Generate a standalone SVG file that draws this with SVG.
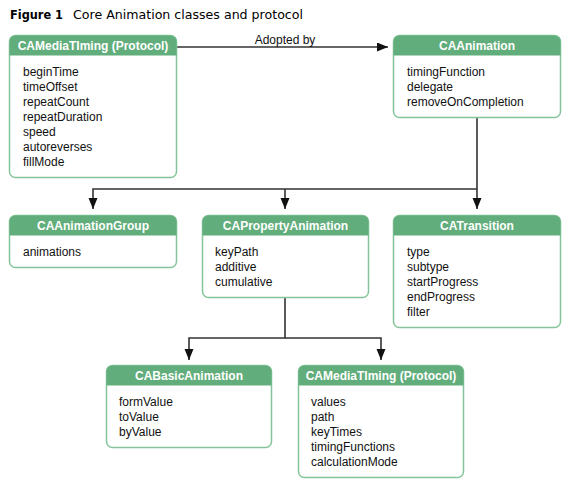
<svg xmlns="http://www.w3.org/2000/svg" width="573" height="491" viewBox="0 0 573 491">
<defs>
<style>
.box{fill:#fff;stroke:#84c49a;stroke-width:1.5}
.hdr{fill:#62ad7c}
.ht{font-family:"Liberation Sans",Arial,sans-serif;font-size:12px;font-weight:bold;fill:#fff;text-anchor:middle}
.it{font-family:"Liberation Sans",Arial,sans-serif;font-size:12px;fill:#111}
.con{fill:none;stroke:#333;stroke-width:1.6}
.lbl{font-family:"Liberation Sans",Arial,sans-serif;font-size:12px;fill:#111;text-anchor:middle}
.title{font-family:"DejaVu Sans","Lucida Grande",sans-serif;font-size:12px;fill:#000}
</style>
<marker id="arr" markerUnits="userSpaceOnUse" markerWidth="12" markerHeight="10" refX="11" refY="4.5" orient="auto">
<path d="M0,0 L11,4.5 L0,9 Z" fill="#111"/>
</marker>
</defs>
<rect width="573" height="491" fill="#fff"/>
<text class="title" x="10" y="19"><tspan font-weight="bold" textLength="53" lengthAdjust="spacingAndGlyphs">Figure 1</tspan><tspan x="73" textLength="230" lengthAdjust="spacingAndGlyphs">Core Animation classes and protocol</tspan></text>

<g id="connectors">
<path class="con" d="M177,47 H388" marker-end="url(#arr)"/>
<text class="lbl" x="285" y="44">Adopted by</text>
<path class="con" d="M477,118 V209" marker-end="url(#arr)"/>
<path class="con" d="M477,189 H93 V209" marker-end="url(#arr)"/>
<path class="con" d="M285,189 V209" marker-end="url(#arr)"/>
<path class="con" d="M285,298 V338 H189 V360" marker-end="url(#arr)"/>
<path class="con" d="M285,338 H381 V360" marker-end="url(#arr)"/>
</g>

<g id="camediatiming">
<rect class="box" x="9.5" y="35.5" width="167" height="142" rx="6"/>
<path class="hdr" d="M9.5,55.5 V41.5 A6,6 0 0 1 15.5,35.5 H170.5 A6,6 0 0 1 176.5,41.5 V55.5 Z"/>
<text class="ht" x="93" y="50">CAMediaTIming (Protocol)</text>
<text class="it" x="23" y="76">beginTime</text>
<text class="it" x="23" y="91">timeOffset</text>
<text class="it" x="23" y="106">repeatCount</text>
<text class="it" x="23" y="121">repeatDuration</text>
<text class="it" x="23" y="136">speed</text>
<text class="it" x="23" y="151">autoreverses</text>
<text class="it" x="23" y="166">fillMode</text>
</g>

<g id="caanimation">
<rect class="box" x="393.5" y="35.5" width="167" height="82" rx="6"/>
<path class="hdr" d="M393.5,55.5 V41.5 A6,6 0 0 1 399.5,35.5 H554.5 A6,6 0 0 1 560.5,41.5 V55.5 Z"/>
<text class="ht" x="477" y="50">CAAnimation</text>
<text class="it" x="407" y="76">timingFunction</text>
<text class="it" x="407" y="91">delegate</text>
<text class="it" x="407" y="106">removeOnCompletion</text>
</g>

<g id="caanimationgroup">
<rect class="box" x="9.5" y="215.5" width="167" height="52" rx="6"/>
<path class="hdr" d="M9.5,235.5 V221.5 A6,6 0 0 1 15.5,215.5 H170.5 A6,6 0 0 1 176.5,221.5 V235.5 Z"/>
<text class="ht" x="93" y="230">CAAnimationGroup</text>
<text class="it" x="23" y="256">animations</text>
</g>

<g id="capropertyanimation">
<rect class="box" x="202.5" y="215.5" width="166" height="82" rx="6"/>
<path class="hdr" d="M202.5,235.5 V221.5 A6,6 0 0 1 208.5,215.5 H362.5 A6,6 0 0 1 368.5,221.5 V235.5 Z"/>
<text class="ht" x="285.5" y="230">CAPropertyAnimation</text>
<text class="it" x="215" y="256">keyPath</text>
<text class="it" x="215" y="271">additive</text>
<text class="it" x="215" y="286">cumulative</text>
</g>

<g id="catransition">
<rect class="box" x="393.5" y="215.5" width="167" height="112" rx="6"/>
<path class="hdr" d="M393.5,235.5 V221.5 A6,6 0 0 1 399.5,215.5 H554.5 A6,6 0 0 1 560.5,221.5 V235.5 Z"/>
<text class="ht" x="477" y="230">CATransition</text>
<text class="it" x="407" y="256">type</text>
<text class="it" x="407" y="271">subtype</text>
<text class="it" x="407" y="286">startProgress</text>
<text class="it" x="407" y="301">endProgress</text>
<text class="it" x="407" y="316">filter</text>
</g>

<g id="cabasicanimation">
<rect class="box" x="106.5" y="365.5" width="165" height="82" rx="6"/>
<path class="hdr" d="M106.5,385.5 V371.5 A6,6 0 0 1 112.5,365.5 H265.5 A6,6 0 0 1 271.5,371.5 V385.5 Z"/>
<text class="ht" x="189" y="380">CABasicAnimation</text>
<text class="it" x="119" y="406">formValue</text>
<text class="it" x="119" y="421">toValue</text>
<text class="it" x="119" y="436">byValue</text>
</g>

<g id="camediatiming2">
<rect class="box" x="298.5" y="365.5" width="165" height="112" rx="6"/>
<path class="hdr" d="M298.5,385.5 V371.5 A6,6 0 0 1 304.5,365.5 H457.5 A6,6 0 0 1 463.5,371.5 V385.5 Z"/>
<text class="ht" x="381" y="380">CAMediaTIming (Protocol)</text>
<text class="it" x="311" y="406">values</text>
<text class="it" x="311" y="421">path</text>
<text class="it" x="311" y="436">keyTimes</text>
<text class="it" x="311" y="451">timingFunctions</text>
<text class="it" x="311" y="466">calculationMode</text>
</g>
</svg>
